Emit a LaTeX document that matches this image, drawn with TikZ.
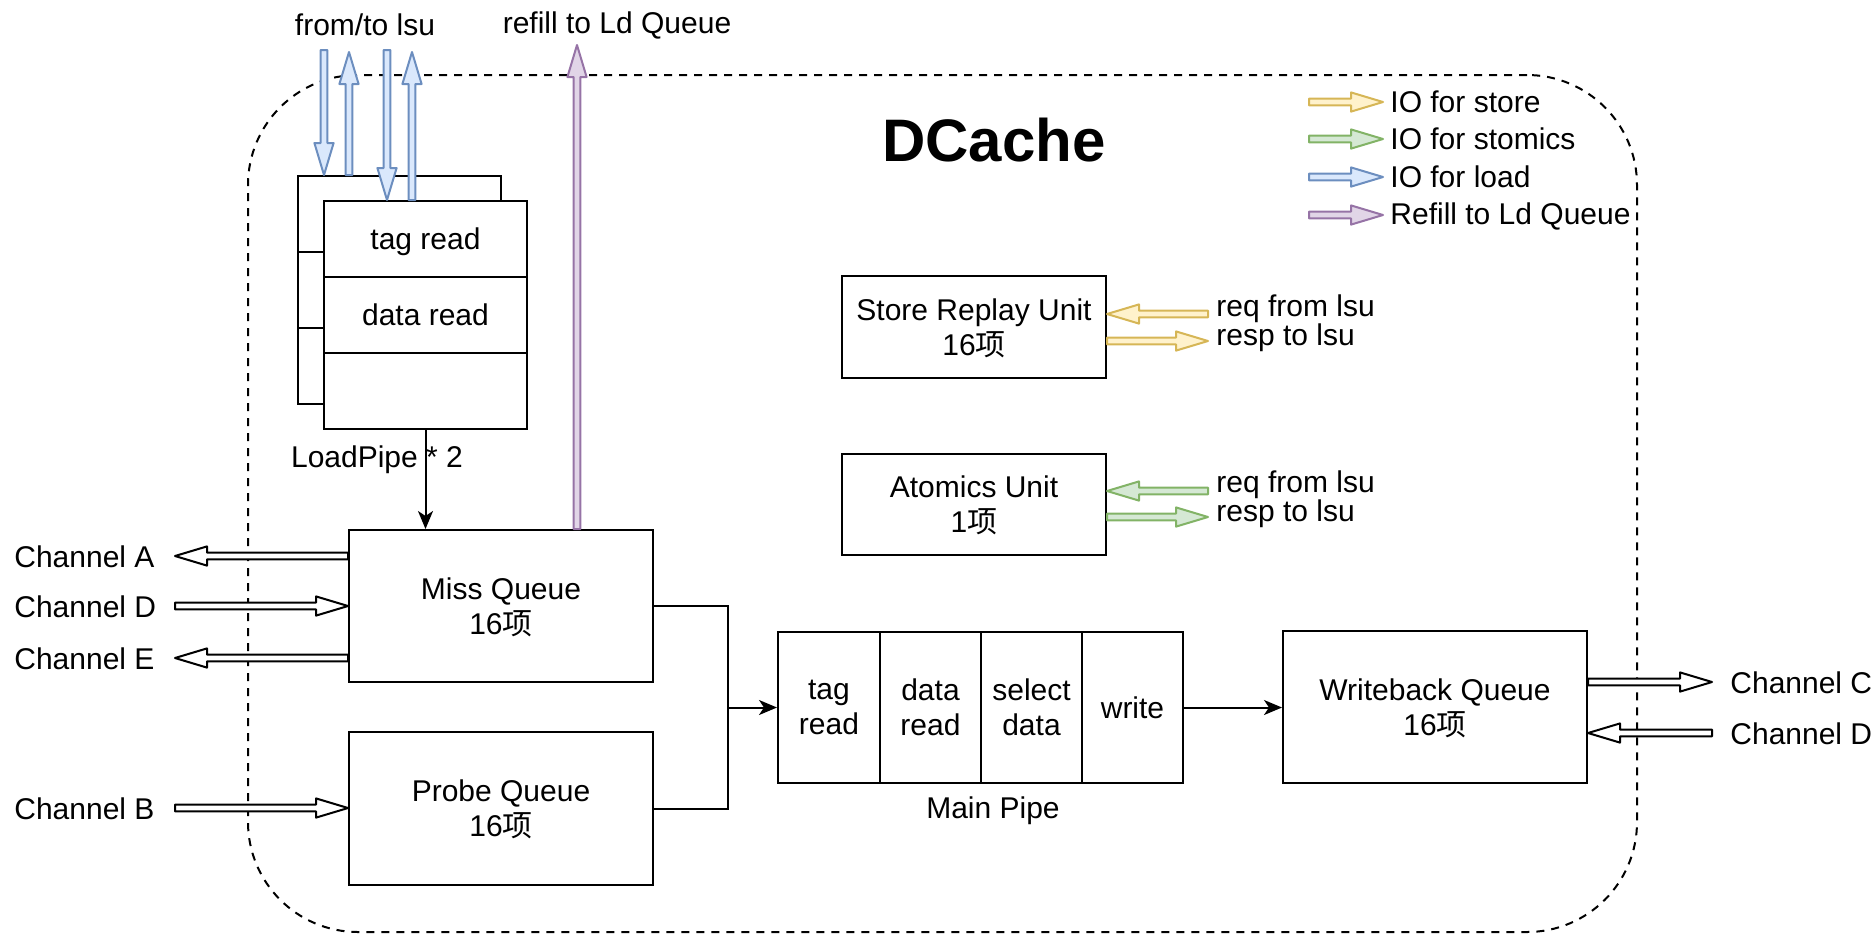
\documentclass[tikz,border=0pt]{standalone}
\usepackage{fontspec}
\setmainfont{Liberation Sans}
\newfontfamily\cjk{Noto Sans CJK SC}
\usetikzlibrary{calc,arrows.meta}
\definecolor{ylS}{HTML}{D6B656}\definecolor{ylF}{HTML}{FFF2CC}
\definecolor{grS}{HTML}{82B366}\definecolor{grF}{HTML}{D5E8D4}
\definecolor{blS}{HTML}{6C8EBF}\definecolor{blF}{HTML}{DAE8FC}
\definecolor{puS}{HTML}{9673A6}\definecolor{puF}{HTML}{E1D5E7}
\newcommand\flexar[4]{%
  \coordinate (fxs) at (#1);
  \coordinate (fxe) at (#2);
  \coordinate (fxh) at ($(fxe)!16pt!(fxs)$);
  \filldraw[draw=#3,fill=#4,line width=1pt,line join=round]
    ($(fxs)!1.7pt!90:(fxe)$) -- ($(fxh)!1.7pt!90:(fxe)$) -- ($(fxh)!4.8pt!90:(fxe)$) -- (fxe)
    -- ($(fxh)!4.8pt!-90:(fxe)$) -- ($(fxh)!1.7pt!-90:(fxe)$) -- ($(fxs)!1.7pt!-90:(fxe)$) -- cycle;
}
\tikzset{
  txt/.style={font=\fontsize{15}{17.5}\selectfont, inner sep=0pt, align=center},
  box/.style={draw, line width=1pt, fill=white, txt, text depth=0pt},
  conn/.style={line width=1pt, -{Stealth[length=9pt,width=7.5pt,inset=2.5pt]}},
  cont/.style={draw, line width=1pt, dash pattern=on 4pt off 3.5pt, rounded corners=55pt, inner sep=0pt},
}
\begin{document}
\begin{tikzpicture}[x=0.5pt,y=-0.5pt]
\useasboundingbox (0,0) rectangle (1875,934);

% container
\node[cont, minimum width=694.5pt, minimum height=428.5pt] (dc) at (942.5,503.5) {};
\node[font=\fontsize{30}{36}\selectfont\bfseries, inner sep=0pt] (title) at (994,140) {DCache};

% legend
\node[txt, anchor=west] (lg1) at (1390,102) {IO for store};
\node[txt, anchor=west] (lg2) at (1390,139) {IO for stomics};
\node[txt, anchor=west] (lg3) at (1390,177) {IO for load};
\node[txt, anchor=west] (lg4) at (1390,216) {Refill to Ld Queue};
\coordinate (lg1s) at (1309,102); \coordinate (lg1e) at (1383,102);
\coordinate (lg2s) at (1309,139); \coordinate (lg2e) at (1383,139);
\coordinate (lg3s) at (1309,177); \coordinate (lg3e) at (1383,177);
\coordinate (lg4s) at (1309,215); \coordinate (lg4e) at (1383,215);
\flexar{lg1s}{lg1e}{ylS}{ylF}
\flexar{lg2s}{lg2e}{grS}{grF}
\flexar{lg3s}{lg3e}{blS}{blF}
\flexar{lg4s}{lg4e}{puS}{puF}

% LoadPipe (back copy)
\node[box, minimum width=101.5pt, minimum height=38pt] (lpb1) at (399.5,214) {};
\node[box, minimum width=101.5pt, minimum height=38pt] (lpb2) at (399.5,290) {};
\node[box, minimum width=101.5pt, minimum height=38pt] (lpb3) at (399.5,366) {};
% LoadPipe (front)
\node[box, minimum width=101.5pt, minimum height=38pt] (lp1) at (425.5,239) {tag read};
\node[box, minimum width=101.5pt, minimum height=38pt] (lp2) at (425.5,315) {data read};
\node[box, minimum width=101.5pt, minimum height=38pt] (lp3) at (425.5,391) {};
\node[txt] (lpl) at (377,460) {LoadPipe * 2};

% labels on top
\node[txt] (fromlsu) at (365,25) {from/to lsu};
\node[txt] (refill) at (617,25) {refill to Ld Queue};

% queues
\node[box, minimum width=152pt, minimum height=76pt] (mq) at (501,606) {Miss Queue\\16{\cjk 项}};
\node[box, minimum width=152pt, minimum height=76.5pt] (pq) at (501,808.5) {Probe Queue\\16{\cjk 项}};
\node[box, minimum width=132pt, minimum height=51pt] (sru) at (974,327) {Store Replay Unit\\16{\cjk 项}};
\node[box, minimum width=132pt, minimum height=50.5pt] (au) at (974,504.5) {Atomics Unit\\1{\cjk 项}};
\node[box, minimum width=152pt, minimum height=76pt] (wb) at (1435,707) {Writeback Queue\\16{\cjk 项}};

% main pipe
\node[box, minimum width=51pt, minimum height=75.5pt] (mp1) at (829,707.5) {tag\\read};
\node[box, minimum width=50.5pt, minimum height=75.5pt] (mp2) at (930.5,707.5) {data\\read};
\node[box, minimum width=50.5pt, minimum height=75.5pt] (mp3) at (1031.5,707.5) {select\\data};
\node[box, minimum width=50.5pt, minimum height=75.5pt] (mp4) at (1132.5,707.5) {write};
\node[txt] (mpl) at (993,811) {Main Pipe};

% black connectors
\draw[conn] (lp3.south) -- (lp3.south |- mq.north);
\coordinate (jn) at (728,707.5);
\draw[line width=1pt] (mq.east) -| (jn);
\draw[line width=1pt] (pq.east) -| (jn);
\draw[conn] (jn) -- (mp1.west);
\draw[conn] (mp4.east) -- (mp4.east -| wb.west);

% blue load IO
\coordinate (b1) at (324,50); \coordinate (b2) at (349,52);
\coordinate (b3) at (387,50); \coordinate (b4) at (412,52);
\flexar{b1}{b1 |- lpb1.north}{blS}{blF}
\flexar{b2 |- lpb1.north}{b2}{blS}{blF}
\flexar{b3}{b3 |- lp1.north}{blS}{blF}
\flexar{b4 |- lp1.north}{b4}{blS}{blF}

% purple refill
\coordinate (rf) at (577,45);
\flexar{rf |- mq.north}{rf}{puS}{puF}

% store replay IO
\node[txt, anchor=west] (sreq) at (1216,309) {req from lsu};
\node[txt, anchor=west] (sresp) at (1216,338) {resp to lsu};
\coordinate (s1) at (1208,314); \coordinate (s2) at (1208,341);
\flexar{s1}{s1 -| sru.east}{ylS}{ylF}
\flexar{s2 -| sru.east}{s2}{ylS}{ylF}

% atomics IO
\node[txt, anchor=west] (areq) at (1216,485) {req from lsu};
\node[txt, anchor=west] (aresp) at (1216,514) {resp to lsu};
\coordinate (a1) at (1208,491); \coordinate (a2) at (1208,517);
\flexar{a1}{a1 -| au.east}{grS}{grF}
\flexar{a2 -| au.east}{a2}{grS}{grF}

% channels left
\node[txt, anchor=west] (chA) at (14,557) {Channel A};
\node[txt, anchor=west] (chD) at (14,607) {Channel D};
\node[txt, anchor=west] (chE) at (14,659) {Channel E};
\node[txt, anchor=west] (chB) at (14,809) {Channel B};
\coordinate (cA) at (175,556); \coordinate (cD) at (175,606);
\coordinate (cE) at (175,658); \coordinate (cB) at (175,808);
\flexar{cA -| mq.west}{cA}{black}{white}
\flexar{cD}{cD -| mq.west}{black}{white}
\flexar{cE -| mq.west}{cE}{black}{white}
\flexar{cB}{cB -| pq.west}{black}{white}

% channels right
\node[txt, anchor=west] (chC) at (1730,683) {Channel C};
\node[txt, anchor=west] (chD2) at (1730,734) {Channel D};
\coordinate (cC) at (1712,682); \coordinate (cD2) at (1712,733);
\flexar{cC -| wb.east}{cC}{black}{white}
\flexar{cD2}{cD2 -| wb.east}{black}{white}
\end{tikzpicture}
\end{document}
